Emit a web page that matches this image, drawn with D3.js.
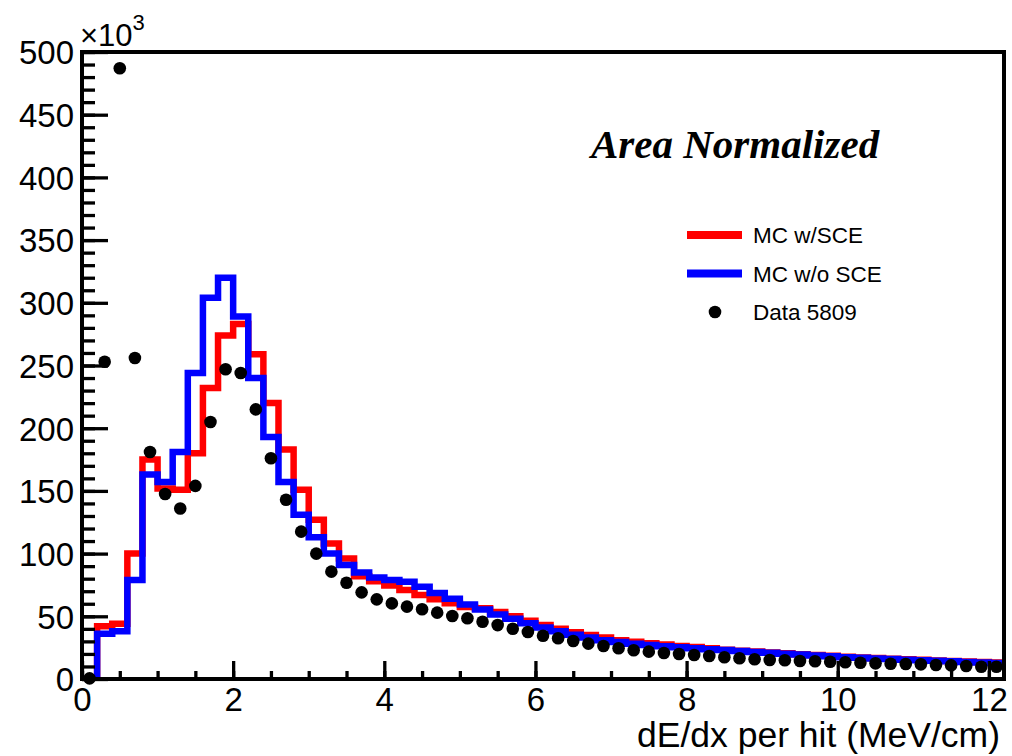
<!DOCTYPE html>
<html>
<head>
<meta charset="utf-8">
<script src="https://cdn.jsdelivr.net/npm/d3@7"></script>
<style>
  body { margin: 0; background: #fff; }
  svg { display: block; }
</style>
</head>
<body>
<script>
// bins of 0.2 MeV/cm from 0 to 12.2, values in units of 10^3
const binWidth = 0.2;
const nBins = 61;

const mcWithSCE = [0, 42, 44, 100, 175, 152, 151, 180, 232, 274,
  283, 259, 220, 183, 151, 127, 108, 96, 82, 78,
  74.5, 71, 67, 63.5, 60.5, 57.5, 56.5, 53.5, 50, 46.5,
  43, 40, 37.3, 35, 33, 31, 29.7, 28.5, 27.5, 26.4,
  25.5, 24.6, 23.4, 22.6, 21.9, 21.2, 20.5, 19.8, 19.1, 18.5,
  17.7, 17.2, 16.7, 16.2, 15.7, 15.3, 14.8, 14.4, 13.9, 13.5, 13.1];

const mcNoSCE = [0, 36, 38, 79, 163, 157, 181, 244, 304, 320,
  289, 240, 193, 157, 131, 113, 100, 91, 85, 81,
  79, 77.5, 73.5, 68.5, 64, 59.5, 55.5, 51.5, 48, 44.5,
  41, 38, 35.3, 33, 31, 29.5, 28.2, 27.1, 26.2, 25.3,
  24.6, 23.8, 23.1, 22.3, 21.6, 20.9, 20.2, 19.5, 18.8, 18.2,
  17.4, 16.9, 16.4, 15.9, 15.4, 15.0, 14.5, 14.1, 13.6, 13.2, 12.8];

const data5809 = [0.5, 253, 487, 256, 181, 147.5, 136, 154, 205, 247,
  244, 215, 176, 143, 117.5, 100, 85.6, 76.8, 69.1, 63.5,
  60.3, 57.7, 55.6, 52.9, 50.2, 48.4, 45.7, 43, 40.1, 37.5,
  34.5, 32.5, 30.3, 28.2, 26.3, 24.5, 22.9, 21.8, 20.7, 19.9,
  19.1, 18.3, 17.3, 16.5, 15.7, 15.2, 14.9, 14.4, 14.1, 13.8,
  13.3, 13, 12.5, 12.2, 12, 11.7, 11.2, 10.9, 10.4, 9.8, 9.8];

const xTicks = [0, 2, 4, 6, 8, 10, 12];
const yTicks = [0, 50, 100, 150, 200, 250, 300, 350, 400, 450, 500];

const legendItems = [
  {label: "MC w/SCE", color: "#ff0000", type: "line"},
  {label: "MC w/o SCE", color: "#0000ff", type: "line"},
  {label: "Data 5809", color: "#000", type: "dot"}
];

const width = 1012, height = 756;
const frame = {left: 82, top: 52, right: 1004, bottom: 679};

const x = d3.scaleLinear().domain([0, binWidth * nBins]).range([frame.left, frame.right]);
const y = d3.scaleLinear().domain([0, 500]).range([frame.bottom, frame.top]);

const svg = d3.select("body").append("svg")
    .attr("width", width)
    .attr("height", height)
    .style("font-family", "'Liberation Sans', Arial, sans-serif");

svg.append("rect").attr("width", width).attr("height", height).attr("fill", "#fff");

svg.append("clipPath").attr("id", "plotclip")
  .append("rect")
    .attr("x", frame.left).attr("y", frame.top)
    .attr("width", frame.right - frame.left).attr("height", frame.bottom - frame.top);

// step outline of a histogram
function histPoints(values) {
  const pts = values.map((v, i) => [i * binWidth, v]);
  pts.push([nBins * binWidth, values[values.length - 1]]);
  return pts;
}

const step = d3.line()
    .x(d => x(d[0]))
    .y(d => y(d[1]))
    .curve(d3.curveStepAfter);

const hists = svg.append("g").attr("clip-path", "url(#plotclip)");

[[mcWithSCE, "#ff0000"], [mcNoSCE, "#0000ff"]].forEach(([vals, col]) => {
  hists.append("path")
      .attr("d", step(histPoints(vals)))
      .attr("fill", "none")
      .attr("stroke", col)
      .attr("stroke-width", 6.5)
      .attr("stroke-linejoin", "miter");
});

// axes
const yMajor = svg.append("g")
    .attr("transform", "translate(" + frame.left + ",0)")
    .call(d3.axisLeft(y).tickValues(yTicks).tickSize(-26).tickPadding(8).tickFormat(d3.format("d")));
const yMinor = svg.append("g")
    .attr("transform", "translate(" + frame.left + ",0)")
    .call(d3.axisLeft(y).tickValues(d3.range(0, 501, 10)).tickSize(-13).tickFormat(""));
const xMajor = svg.append("g")
    .attr("transform", "translate(0," + frame.bottom + ")")
    .call(d3.axisBottom(x).tickValues(xTicks).tickSize(-18).tickPadding(9).tickFormat(d3.format("d")));
const xMinor = svg.append("g")
    .attr("transform", "translate(0," + frame.bottom + ")")
    .call(d3.axisBottom(x).tickValues(d3.range(0, 12.1, 0.5)).tickSize(-8).tickFormat(""));

[yMajor, yMinor, xMajor, xMinor].forEach(g => {
  g.select(".domain").remove();
  g.selectAll(".tick line").attr("stroke", "#000").attr("stroke-width", 3.3);
  g.selectAll(".tick text")
      .attr("fill", "#000")
      .style("font-size", "33px")
      .style("font-family", "'Liberation Sans', Arial, sans-serif");
});
yMajor.selectAll(".tick text").attr("dy", "0.36em");

svg.append("rect")
    .attr("x", frame.left).attr("y", frame.top)
    .attr("width", frame.right - frame.left).attr("height", frame.bottom - frame.top)
    .attr("fill", "none").attr("stroke", "#000").attr("stroke-width", 4);

// data points at bin centres
svg.append("g").selectAll("circle")
  .data(data5809)
  .join("circle")
    .attr("cx", (d, i) => x((i + 0.5) * binWidth))
    .attr("cy", d => y(d))
    .attr("r", 6.3)
    .attr("fill", "#000");

// exponent label
const expo = svg.append("text")
    .attr("x", 80).attr("y", 46)
    .style("font-size", "31px");
expo.append("tspan").text("×10");
expo.append("tspan").attr("dy", -16).style("font-size", "22px").text("3");

svg.append("text")
    .attr("x", 1000).attr("y", 747)
    .attr("text-anchor", "end")
    .style("font-size", "35.5px")
    .text("dE/dx per hit (MeV/cm)");

svg.append("text")
    .attr("x", 591).attr("y", 158)
    .style("font-family", "'Liberation Serif', 'Times New Roman', serif")
    .style("font-weight", "bold")
    .style("font-style", "italic")
    .style("font-size", "41px")
    .text("Area Normalized");

// legend
const legend = svg.append("g");
const legendY = d3.scalePoint().domain(legendItems.map(d => d.label)).range([235, 312]);
legendItems.forEach(item => {
  const ly = legendY(item.label);
  if (item.type === "line") {
    legend.append("line")
        .attr("x1", 687).attr("x2", 742)
        .attr("y1", ly).attr("y2", ly)
        .attr("stroke", item.color).attr("stroke-width", 8);
  } else {
    legend.append("circle")
        .attr("cx", 715).attr("cy", ly).attr("r", 6.3).attr("fill", item.color);
  }
  legend.append("text")
      .attr("x", 753).attr("y", ly)
      .attr("dy", "0.36em")
      .style("font-size", "22.5px")
      .text(item.label);
});
</script>
</body>
</html>
